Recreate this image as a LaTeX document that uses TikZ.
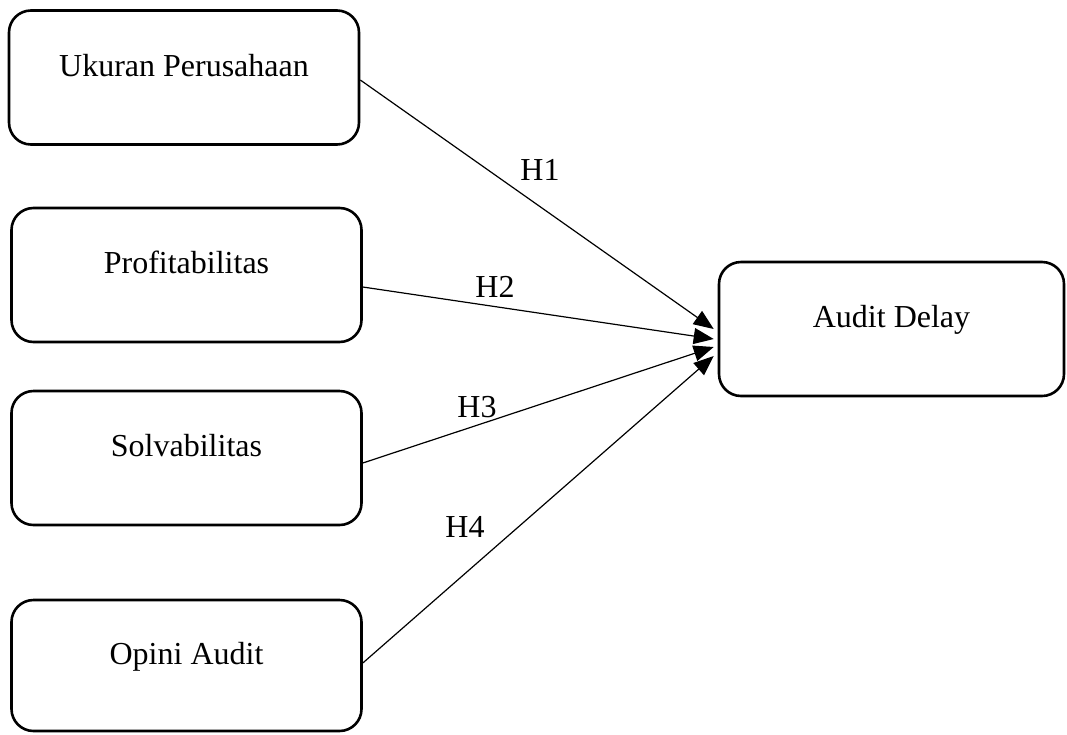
\documentclass[tikz,border=0pt]{standalone}
\usepackage{fontspec}
\setmainfont{Liberation Serif}
\usetikzlibrary{arrows.meta}
\begin{document}
\begin{tikzpicture}[x=1pt,y=-1pt,
  varbox/.style={draw=black, line width=2.6pt, rounded corners=22pt, rectangle,
    minimum width=350pt, minimum height=134pt, inner sep=0pt,
    font=\fontsize{32}{38}\selectfont, text height=0pt, text depth=3pt},
  link/.style={draw=black, line width=1.2pt, -{Triangle[length=20pt,width=16pt]}},
  hlabel/.style={font=\fontsize{32}{38}\selectfont, anchor=base, inner sep=0pt}]
\useasboundingbox (0,0) rectangle (1067,734);
\node[varbox] (A) at (184,77.5) {Ukuran Perusahaan};
\node[varbox] (B) at (186.5,275) {Profitabilitas};
\node[varbox] (C) at (186.5,458) {Solvabilitas};
\node[varbox, minimum height=131pt] (D) at (186.5,665.5) {Opini Audit};
\node[varbox, minimum width=345pt] (E) at (891.5,329) {Audit Delay};
\draw[link] ([yshift=-2.5pt]A.east) -- ([xshift=-4pt]E.west);
\draw[link] ([yshift=-12pt]B.east) -- ([xshift=-4pt,yshift=-10pt]E.west);
\draw[link] ([yshift=-5pt]C.east) -- ([xshift=-4pt,yshift=-18pt]E.west);
\draw[link] ([yshift=2.5pt]D.east) -- ([xshift=-4pt,yshift=-27pt]E.west);
\node[hlabel] (h1) at (540,180) {H1};
\node[hlabel] (h2) at (495,297) {H2};
\node[hlabel] (h3) at (477,417) {H3};
\node[hlabel] (h4) at (465,537) {H4};
\end{tikzpicture}
\end{document}
